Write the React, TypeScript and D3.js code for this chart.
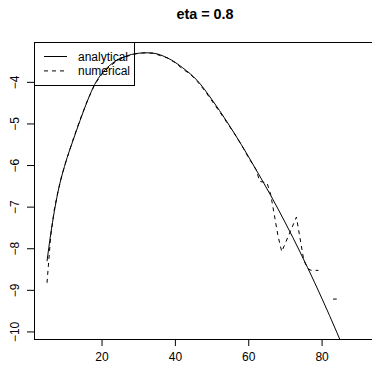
import React, { useEffect, useRef } from 'react';
import * as d3 from 'd3';

const chartTitle = 'eta = 0.8';
const xTicks = [20, 40, 60, 80];
const yTicks = [-10, -9, -8, -7, -6, -5, -4];
const legendLabels = ['analytical', 'numerical'];

// analytical curve
const analyticalX = [5, 6, 7, 8, 10, 12, 14, 16, 18, 20, 22, 24, 26, 28, 30, 32, 34, 38, 42, 46, 50, 54, 58, 62, 66, 70, 74, 78, 82, 86];
const analyticalY = [-8.3, -7.65, -7.1, -6.63, -5.95, -5.42, -4.92, -4.45, -4.05, -3.78, -3.6, -3.47, -3.39, -3.33, -3.3, -3.29, -3.3, -3.42, -3.65, -3.96, -4.42, -4.94, -5.5, -6.1, -6.72, -7.38, -8.08, -8.82, -9.6, -10.42];

// numerical estimate; null where nothing was drawn
const numericalX = [5, 6, 7, 8, 9, 10, 12, 14, 16, 18, 20, 22, 24, 26, 28, 30, 32, 34, 36, 38, 40, 42, 44, 46, 48, 50, 52, 54, 56, 58, 60, 62, 63, 64, 65, 66, 67, 68, 69, 73, 75, 76, 77, 78, 79, 80, 83, 84];
const numericalY = [-8.82, -7.7, -7.05, -6.62, -6.25, -5.95, -5.4, -4.9, -4.44, -4.05, -3.8, -3.62, -3.49, -3.4, -3.34, -3.3, -3.29, -3.3, -3.36, -3.42, -3.53, -3.68, -3.8, -3.98, -4.2, -4.45, -4.7, -4.96, -5.22, -5.5, -5.82, -6.1, -6.38, -6.4, -6.42, -6.7, -7.2, -7.7, -8.07, -7.24, -8.27, -8.47, -8.52, -8.52, -8.52, null, -9.21, -9.21];

const width = 372,
    height = 367;
const left = 34,
    right = 376,
    top = 42,
    bottom = 339;

const font = '"Liberation Sans", Arial, Helvetica, sans-serif';

export default function App() {
    const ref = useRef<SVGSVGElement>(null);

    useEffect(() => {
        const svg = d3.select(ref.current);
        svg.selectAll('*').remove();

        const x = d3.scaleLinear().domain([1.45, 94.7]).range([left, right]);
        const y = d3.scaleLinear().domain([-10.17, -3.03]).range([bottom, top]);

        svg.append('defs')
            .append('clipPath')
            .attr('id', 'plot-clip')
            .append('rect')
            .attr('x', left)
            .attr('y', top)
            .attr('width', right - left)
            .attr('height', bottom - top);

        // title
        svg.append('text')
            .attr('x', (left + right) / 2)
            .attr('y', 19)
            .attr('text-anchor', 'middle')
            .attr('font-family', font)
            .attr('font-weight', 'bold')
            .attr('font-size', 14.4)
            .text(chartTitle);

        // x axis ticks and labels
        const gx = svg.append('g');
        gx.selectAll('line')
            .data(xTicks)
            .enter()
            .append('line')
            .attr('x1', d => x(d))
            .attr('x2', d => x(d))
            .attr('y1', bottom)
            .attr('y2', bottom + 7)
            .attr('stroke', '#000');
        gx.selectAll('text')
            .data(xTicks)
            .enter()
            .append('text')
            .attr('x', d => x(d))
            .attr('y', bottom + 22)
            .attr('text-anchor', 'middle')
            .attr('font-family', font)
            .attr('font-size', 12)
            .text(d => String(d));

        // y axis ticks and labels
        const gy = svg.append('g');
        gy.selectAll('line')
            .data(yTicks)
            .enter()
            .append('line')
            .attr('x1', left - 7)
            .attr('x2', left)
            .attr('y1', d => y(d))
            .attr('y2', d => y(d))
            .attr('stroke', '#000');
        gy.selectAll('text')
            .data(yTicks)
            .enter()
            .append('text')
            .attr('transform', d => 'translate(18.5,' + y(d) + ') rotate(-90)')
            .attr('text-anchor', 'middle')
            .attr('font-family', font)
            .attr('font-size', 12)
            .text(d => String(d).replace('-', '\u2212'));

        const plot = svg.append('g').attr('clip-path', 'url(#plot-clip)');

        const analytical = d3.line<number>()
            .x(i => x(analyticalX[i]))
            .y(i => y(analyticalY[i]))
            .curve(d3.curveMonotoneX);
        plot.append('path')
            .attr('d', analytical(d3.range(analyticalX.length)))
            .attr('fill', 'none')
            .attr('stroke', '#000')
            .attr('stroke-width', 1);

        const numerical = d3.line<number>()
            .defined(i => numericalY[i] != null)
            .x(i => x(numericalX[i]))
            .y(i => y(numericalY[i] as number));
        plot.append('path')
            .attr('d', numerical(d3.range(numericalX.length)))
            .attr('fill', 'none')
            .attr('stroke', '#000')
            .attr('stroke-width', 1)
            .attr('stroke-dasharray', '4,4');

        // box (right edge falls outside the picture)
        svg.append('rect')
            .attr('x', left + 0.5)
            .attr('y', top + 0.5)
            .attr('width', right - left)
            .attr('height', bottom - top)
            .attr('fill', 'none')
            .attr('stroke', '#000');

        // legend, no fill so the curve shows through
        const lg = svg.append('g');
        lg.append('rect')
            .attr('x', left + 0.5)
            .attr('y', top + 0.5)
            .attr('width', 100)
            .attr('height', 43)
            .attr('fill', 'none')
            .attr('stroke', '#000');
        legendLabels.forEach((label, i) => {
            const ly = top + 14.5 + i * 14.4;
            lg.append('line')
                .attr('x1', left + 10)
                .attr('x2', left + 33)
                .attr('y1', ly)
                .attr('y2', ly)
                .attr('stroke', '#000')
                .attr('stroke-dasharray', i === 1 ? '4,4' : null);
            lg.append('text')
                .attr('x', left + 44)
                .attr('y', ly + 4)
                .attr('font-family', font)
                .attr('font-size', 12)
                .text(label);
        });
    }, []);

    return (
        <svg
            ref={ref}
            width={width}
            height={height}
            style={{ position: 'absolute', left: 0, top: 0, background: '#fff' }}
        />
    );
}
